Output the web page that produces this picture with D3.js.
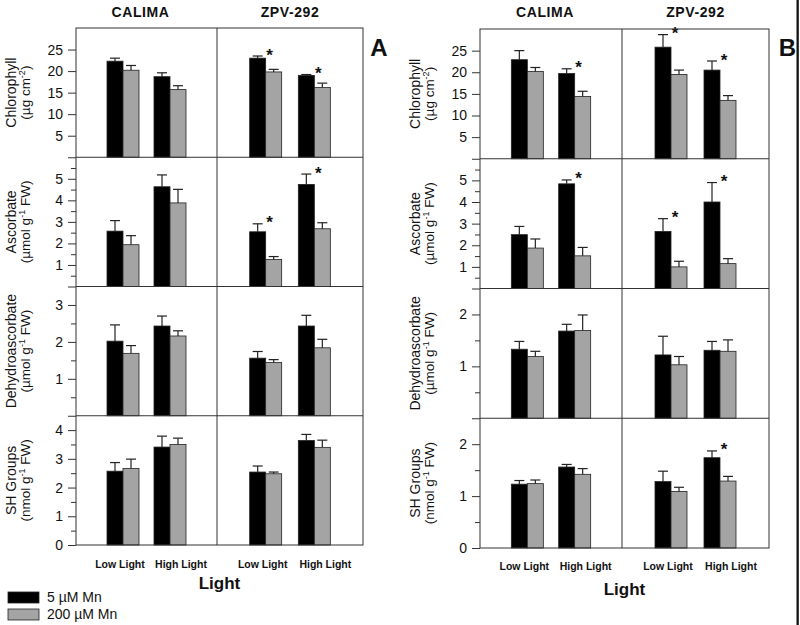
<!DOCTYPE html>
<html>
<head>
<meta charset="utf-8">
<script src="https://cdn.jsdelivr.net/npm/d3@7"></script>
<style>
  body { margin: 0; background: #fff; }
  svg { display: block; }
  text { font-family: "Liberation Sans", Arial, Helvetica, sans-serif; fill: #111; }
</style>
</head>
<body>
<svg id="chart" width="800" height="625"></svg>
<script>
var cultivars = ['CALIMA', 'ZPV-292'];
var lights = ['Low Light', 'High Light'];
var treatments = ['5 µM Mn', '200 µM Mn'];
var labels1 = ['Chlorophyll', 'Ascorbate', 'Dehydroascorbate', 'SH Groups'];
var labels2 = [['(µg cm', '-2', ')'], ['(µmol g', '-1', ' FW)'], ['(µmol g', '-1', ' FW)'], ['(nmol g', '-1', ' FW)']];

// value order: CALIMA low 5, low 200, high 5, high 200, ZPV-292 low 5, low 200, high 5, high 200
var chlA   = [22.3, 20.2, 18.7, 15.7, 23.0, 19.8, 19.0, 16.2];
var chlAse = [0.7, 1.1, 0.9, 0.9, 0.5, 0.6, 0.2, 1.0];
var ascA   = [2.57, 1.94, 4.63, 3.88, 2.54, 1.25, 4.74, 2.68];
var ascAse = [0.49, 0.42, 0.55, 0.63, 0.37, 0.14, 0.48, 0.28];
var dhaA   = [2.02, 1.69, 2.43, 2.16, 1.56, 1.44, 2.43, 1.84];
var dhaAse = [0.44, 0.21, 0.27, 0.14, 0.18, 0.08, 0.29, 0.23];
var shA    = [2.57, 2.66, 3.41, 3.50, 2.54, 2.48, 3.64, 3.40];
var shAse  = [0.30, 0.33, 0.38, 0.22, 0.21, 0.06, 0.21, 0.25];

var chlB   = [22.9, 20.2, 19.7, 14.4, 25.8, 19.5, 20.5, 13.5];
var chlBse = [2.1, 0.9, 1.1, 1.2, 2.9, 1.0, 2.1, 1.1];
var ascB   = [2.49, 1.87, 4.84, 1.51, 2.64, 1.00, 4.00, 1.15];
var ascBse = [0.38, 0.42, 0.18, 0.39, 0.59, 0.26, 0.90, 0.23];
var dhaB   = [1.33, 1.19, 1.68, 1.69, 1.22, 1.03, 1.31, 1.29];
var dhaBse = [0.15, 0.10, 0.13, 0.30, 0.36, 0.16, 0.17, 0.22];
var shB    = [1.23, 1.24, 1.56, 1.42, 1.28, 1.09, 1.74, 1.29];
var shBse  = [0.07, 0.07, 0.05, 0.11, 0.20, 0.08, 0.13, 0.09];

// groups with asterisk: 0 CALIMA low, 1 CALIMA high, 2 ZPV low, 3 ZPV high
var sigA = [[2, 3], [2, 3], [], []];
var sigB = [[1, 2, 3], [1, 2, 3], [], [3]];

var yMaxA = [30, 6, 3.5, 4.5];
var yMaxB = [30, 6, 2.5, 2.5];
var majorA = [[0, 5, 10, 15, 20, 25], [0, 1, 2, 3, 4, 5], [0, 1, 2, 3], [0, 1, 2, 3, 4]];
var minorA = [[], [0.5, 1.5, 2.5, 3.5, 4.5, 5.5], [0.5, 1.5, 2.5], [0.5, 1.5, 2.5, 3.5]];
var majorB = [[0, 5, 10, 15, 20, 25], [0, 1, 2, 3, 4, 5], [0, 1, 2], [0, 1, 2]];
var minorB = [[], [0.5, 1.5, 2.5, 3.5, 4.5, 5.5], [0.5, 1.5], [0.5, 1.5]];

var svg = d3.select('#chart');
var colors = ['#000', '#a4a4a4'];

// scan edge on the right side of the figure
svg.append('rect').attr('x', 796.5).attr('y', 0).attr('width', 2.3).attr('height', 625).attr('fill', '#111');

var drawPanel = function(p) {
  var g = svg.append('g');
  var rowH = (p.bottom - p.top) / 4;
  var subs = [[p.left, p.mid], [p.mid, p.right]];
  var xs = subs.map(function(s) {
    return d3.scalePoint().domain(lights).range(s).padding(1);
  });
  var xt = d3.scaleBand().domain(treatments).range([-16, 16]);

  p.rows.forEach(function(row, r) {
    var y0 = p.top + r * rowH;
    var y = d3.scaleLinear().domain([0, p.yMax[r]]).range([y0 + rowH, y0]);

    // ticks
    var ax = g.append('g').attr('transform', 'translate(' + p.left + ',0)')
      .call(d3.axisLeft(y).tickValues(p.major[r]).tickSize(8).tickPadding(5)
        .tickFormat(function(d) { return (d === 0 && r < 3) ? '' : d; }));
    ax.select('.domain').remove();
    ax.selectAll('line').attr('stroke', '#333');
    ax.selectAll('text').style('font-size', '14px').attr('fill', '#111')
      .style('font-family', '"Liberation Sans", Arial, sans-serif');
    var mx = g.append('g').attr('transform', 'translate(' + p.left + ',0)')
      .call(d3.axisLeft(y).tickValues(p.minor[r]).tickSize(5).tickFormat(''));
    mx.select('.domain').remove();
    mx.selectAll('line').attr('stroke', '#333');

    // y label
    var lab = g.append('g')
      .attr('transform', 'translate(' + (p.left - 60) + ',' + (y0 + rowH / 2) + ') rotate(-90)');
    lab.append('text').attr('text-anchor', 'middle').attr('y', 0)
      .style('font-size', '14px').text(labels1[r]);
    var t2 = lab.append('text').attr('text-anchor', 'middle').attr('y', 13.5)
      .style('font-size', '13.5px');
    t2.append('tspan').text(labels2[r][0]);
    t2.append('tspan').attr('dy', -5).style('font-size', '9px').text(labels2[r][1]);
    t2.append('tspan').attr('dy', 5).text(labels2[r][2]);

    var vals = row[0], ses = row[1];
    var items = vals.map(function(v, i) {
      return { c: Math.floor(i / 4), l: Math.floor(i / 2) % 2, t: i % 2, v: v, se: ses[i] };
    });
    var cx = function(d) { return xs[d.c](lights[d.l]) + xt(treatments[d.t]) + xt.bandwidth() / 2; };

    g.selectAll(null).data(items).enter().append('rect')
      .attr('x', function(d) { return xs[d.c](lights[d.l]) + xt(treatments[d.t]); })
      .attr('y', function(d) { return y(d.v); })
      .attr('width', xt.bandwidth())
      .attr('height', function(d) { return y(0) - y(d.v); })
      .attr('fill', function(d) { return colors[d.t]; })
      .attr('stroke', '#222').attr('stroke-width', 0.8);

    // error bars (upper only)
    g.selectAll(null).data(items).enter().append('line')
      .attr('x1', cx).attr('x2', cx)
      .attr('y1', function(d) { return y(d.v); })
      .attr('y2', function(d) { return y(d.v + d.se); })
      .attr('stroke', '#222').attr('stroke-width', 1.2);
    g.selectAll(null).data(items).enter().append('line')
      .attr('x1', function(d) { return cx(d) - 5; })
      .attr('x2', function(d) { return cx(d) + 5; })
      .attr('y1', function(d) { return y(d.v + d.se); })
      .attr('y2', function(d) { return y(d.v + d.se); })
      .attr('stroke', '#222').attr('stroke-width', 1.2);

    // asterisks
    g.selectAll(null).data(p.sig[r]).enter().append('text')
      .attr('x', function(k) { return xs[Math.floor(k / 2)](lights[k % 2]) + 4; })
      .attr('y', function(k) { return y(vals[k * 2] + ses[k * 2]) - 5 + 9.5; })
      .attr('text-anchor', 'middle')
      .style('font-size', '17px').style('font-weight', 'bold')
      .text('*');

    if (r > 0) {
      g.append('line').attr('x1', p.left).attr('x2', p.right).attr('y1', y0).attr('y2', y0)
        .attr('stroke', '#333').attr('stroke-width', 1);
    }
  });

  // frame
  g.append('rect').attr('x', p.left).attr('y', p.top)
    .attr('width', p.right - p.left).attr('height', p.bottom - p.top)
    .attr('fill', 'none').attr('stroke', '#333').attr('stroke-width', 1);
  g.append('line').attr('x1', p.mid).attr('x2', p.mid).attr('y1', p.top).attr('y2', p.bottom)
    .attr('stroke', '#333').attr('stroke-width', 1);

  // cultivar titles
  g.selectAll(null).data(cultivars).enter().append('text')
    .attr('x', function(d, i) { return (subs[i][0] + subs[i][1]) / 2 - (i === 0 ? 6 : 0); })
    .attr('y', 17)
    .attr('text-anchor', 'middle')
    .style('font-size', '14px').style('font-weight', 'bold').style('letter-spacing', '0.6px')
    .text(function(d) { return d; });

  // light labels (printed slightly apart from the bar pairs)
  var shift = [-3, 11];
  cultivars.forEach(function(c, i) {
    g.selectAll(null).data(lights).enter().append('text')
      .attr('x', function(d, j) { return xs[i](d) + shift[j]; })
      .attr('y', p.lightY)
      .attr('text-anchor', 'middle')
      .style('font-size', '10.5px').style('font-weight', 'bold')
      .text(function(d) { return d; });
  });

  g.append('text').attr('x', (p.left + p.right) / 2).attr('y', p.titleY)
    .attr('text-anchor', 'middle')
    .style('font-size', '17px').style('font-weight', 'bold')
    .text('Light');

  g.append('text').attr('x', p.letterX).attr('y', 56)
    .attr('text-anchor', 'middle')
    .style('font-size', '24px').style('font-weight', 'bold')
    .text(p.letter);
};

drawPanel({
  left: 76, mid: 217, right: 363, top: 28, bottom: 545,
  rows: [[chlA, chlAse], [ascA, ascAse], [dhaA, dhaAse], [shA, shAse]],
  sig: sigA, yMax: yMaxA, major: majorA, minor: minorA,
  lightY: 568, titleY: 589, letter: 'A', letterX: 379
});
drawPanel({
  left: 480, mid: 622, right: 769, top: 29, bottom: 548,
  rows: [[chlB, chlBse], [ascB, ascBse], [dhaB, dhaBse], [shB, shBse]],
  sig: sigB, yMax: yMaxB, major: majorB, minor: minorB,
  lightY: 569.5, titleY: 595, letter: 'B', letterX: 787.5
});

// legend
var leg = svg.append('g');
leg.selectAll(null).data(treatments).enter().append('rect')
  .attr('x', 8).attr('y', function(d, i) { return 592 + i * 17; })
  .attr('width', 31).attr('height', 11)
  .attr('fill', function(d, i) { return colors[i]; })
  .attr('stroke', '#222').attr('stroke-width', 0.8);
leg.selectAll(null).data(treatments).enter().append('text')
  .attr('x', 47).attr('y', function(d, i) { return 602 + i * 17; })
  .style('font-size', '14px')
  .text(function(d) { return d; });
</script>
</body>
</html>
